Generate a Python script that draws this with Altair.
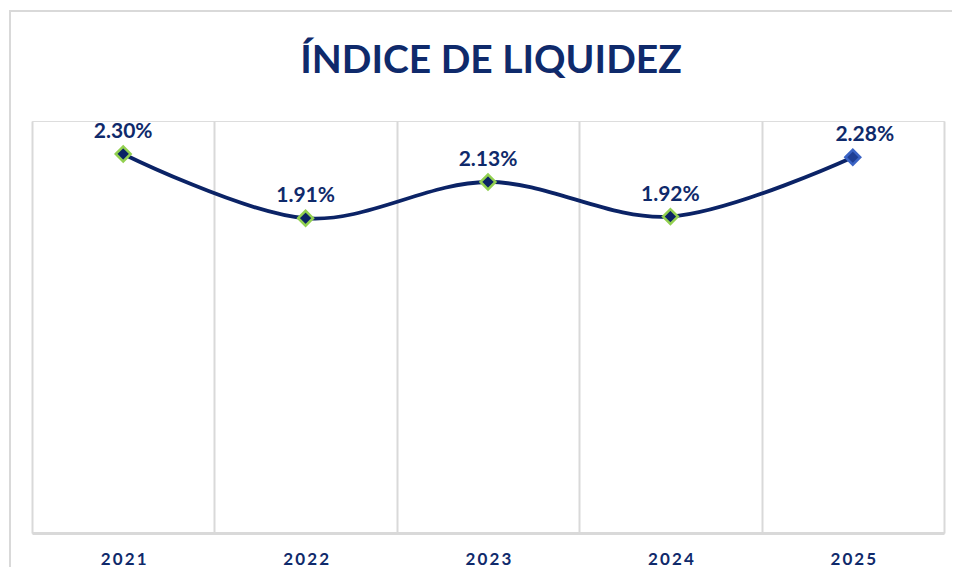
import altair as alt
import pandas as pd

years = ["2021", "2022", "2023", "2024", "2025"]
values = [2.30, 1.91, 2.13, 1.92, 2.28]
title_text = ["ÍNDICE DE LIQUIDEZ"]

NAVY = "#0f2a6b"
LINE = "#0b2366"
GREEN = "#92d050"
GRID = "#d9d9d9"

df = pd.DataFrame({"year": years, "value": values})

x = alt.X(
    "year:N",
    sort=years,
    scale=alt.Scale(paddingInner=0, paddingOuter=0),
    axis=alt.Axis(
        title=None,
        labelAngle=0,
        labelFont="Lato",
        labelFontSize=17,
        labelFontWeight="bold",
        labelColor=NAVY,
        labelBaseline="alphabetic",
        labelPadding=31,
        labelExpr="join(split(datum.label, ''), '\u2009')",
        ticks=False,
        grid=True,
        gridColor=GRID,
        gridWidth=2,
        tickBand="extent",
        domainColor=GRID,
        domainWidth=3,
    ),
)
y = alt.Y("value:Q", scale=alt.Scale(domain=[0, 2.5], nice=False, zero=True), axis=None)

base = alt.Chart(df).encode(x=x, y=y)

one = pd.DataFrame({"k": [0]})
border_top = alt.Chart(one).mark_rule(color=GRID, strokeWidth=2).encode(
    x=alt.value(-22), x2=alt.value(935), y=alt.value(-110)
)
border_left = alt.Chart(one).mark_rule(color=GRID, strokeWidth=2).encode(
    x=alt.value(-22), y=alt.value(-111), y2=alt.value(480)
)

title = alt.Chart(pd.DataFrame({"t": title_text})).mark_text(
    font="Lato", fontSize=39, fontWeight="bold", color=NAVY,
    align="center", baseline="alphabetic",
).encode(text="t:N", x=alt.value(459), y=alt.value(-48))

line = base.mark_line(
    color=LINE, strokeWidth=3.8, interpolate="cardinal", tension=0
)

points = base.mark_point(
    shape="diamond", filled=True, size=220, strokeWidth=2.5, opacity=1
).encode(
    fill=alt.condition(alt.datum.year == "2025", alt.value("#1f3f94"), alt.value(LINE)),
    stroke=alt.condition(alt.datum.year == "2025", alt.value("#3a63c4"), alt.value(GREEN)),
)

label_common = dict(
    font="Lato", fontSize=21, fontWeight="bold", color=NAVY, baseline="bottom", dy=-12
)
labels = base.transform_filter(alt.datum.year != "2025").transform_calculate(
    lbl="format(datum.value, '.2f') + '%'"
).mark_text(**label_common).encode(text="lbl:N")
labels_last = base.transform_filter(alt.datum.year == "2025").transform_calculate(
    lbl="format(datum.value, '.2f') + '%'"
).mark_text(dx=12, **label_common).encode(text="lbl:N")

chart = alt.layer(border_top, border_left, title, line, points, labels, labels_last).properties(
    width=912,
    height=412,
    autosize=alt.AutoSizeParams(type="none"),
    padding={"left": 24, "top": 113, "right": 8, "bottom": 34},
).configure_view(stroke=None).configure(background="white")

chart.save("out.html", embed_options={"renderer": "svg", "actions": False})
